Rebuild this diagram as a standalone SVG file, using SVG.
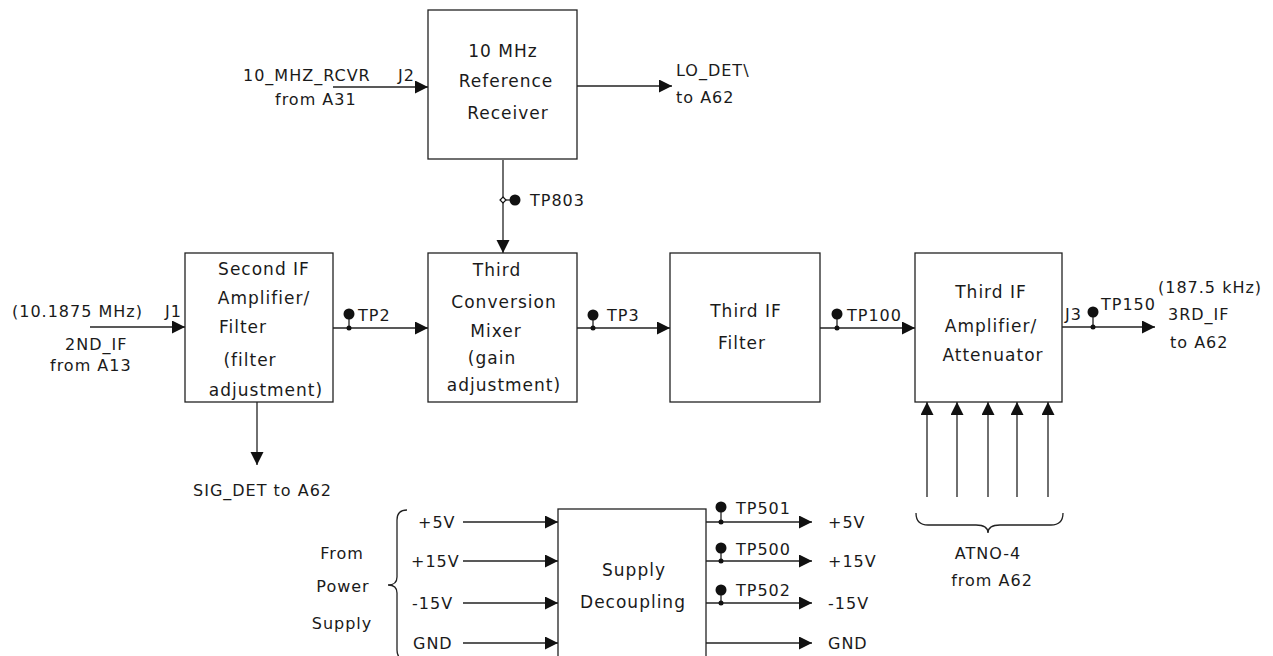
<svg xmlns="http://www.w3.org/2000/svg" width="1273" height="656" viewBox="0 0 1273 656">
<defs>
<marker id="ah" markerUnits="userSpaceOnUse" markerWidth="14" markerHeight="14" refX="13" refY="6.5" orient="auto">
<path d="M0,0 L13,6.5 L0,13 z" fill="#111"/>
</marker>
<style>
.box{fill:#fff;stroke:#222;stroke-width:1.3}
.w{stroke:#222;stroke-width:1.3;fill:none}
.a{stroke:#222;stroke-width:1.3;fill:none;marker-end:url(#ah)}
.t{font-family:"DejaVu Sans",sans-serif;font-size:16px;fill:#1a1a1a;letter-spacing:1px}
.b{font-family:"DejaVu Sans",sans-serif;font-size:17px;fill:#1a1a1a;letter-spacing:1px;text-anchor:middle}
.d{fill:#111}
</style>
</defs>
<rect width="1273" height="656" fill="#fff"/>

<g id="connectors">
<line class="a" x1="333" y1="87" x2="428" y2="87"/>
<line class="a" x1="577" y1="86" x2="672" y2="86"/>
<line class="a" x1="503" y1="160" x2="503" y2="253"/>
<line class="a" x1="90" y1="327" x2="185" y2="327"/>
<line class="a" x1="333" y1="328" x2="428" y2="328"/>
<line class="a" x1="257" y1="402" x2="257" y2="465"/>
<line class="a" x1="577" y1="328" x2="670" y2="328"/>
<line class="a" x1="820" y1="328" x2="915" y2="328"/>
<line class="a" x1="1062" y1="327" x2="1155" y2="327"/>
<line class="a" x1="927" y1="497" x2="927" y2="402"/>
<line class="a" x1="957" y1="497" x2="957" y2="402"/>
<line class="a" x1="988" y1="497" x2="988" y2="402"/>
<line class="a" x1="1017" y1="497" x2="1017" y2="402"/>
<line class="a" x1="1048" y1="497" x2="1048" y2="402"/>
<line class="a" x1="463" y1="522" x2="558" y2="522"/>
<line class="a" x1="463" y1="561" x2="558" y2="561"/>
<line class="a" x1="463" y1="603" x2="558" y2="603"/>
<line class="a" x1="463" y1="643" x2="558" y2="643"/>
<line class="a" x1="706" y1="522" x2="812" y2="522"/>
<line class="a" x1="706" y1="561" x2="812" y2="561"/>
<line class="a" x1="706" y1="603" x2="812" y2="603"/>
<line class="a" x1="706" y1="643" x2="812" y2="643"/>
</g>

<g id="testpoints">
<path d="M503,197 L506,200 L503,203 L500,200 z" fill="#fff" stroke="#111" stroke-width="1.2"/>
<line class="w" x1="506" y1="200" x2="515" y2="200"/>
<circle class="d" cx="515" cy="200" r="5.5"/>
<text class="t" x="530" y="206">TP803</text>

<line class="w" x1="349" y1="314" x2="349" y2="328"/>
<circle class="d" cx="349" cy="314" r="5.5"/><circle class="d" cx="349" cy="328" r="2.5"/>
<text class="t" x="358" y="321">TP2</text>

<line class="w" x1="593" y1="315" x2="593" y2="328"/>
<circle class="d" cx="593" cy="315" r="5.5"/><circle class="d" cx="593" cy="328" r="2.5"/>
<text class="t" x="607" y="321">TP3</text>

<line class="w" x1="837" y1="314" x2="837" y2="328"/>
<circle class="d" cx="837" cy="314" r="5.5"/><circle class="d" cx="837" cy="328" r="2.5"/>
<text class="t" x="847" y="321">TP100</text>

<line class="w" x1="1093" y1="312" x2="1093" y2="327"/>
<circle class="d" cx="1093" cy="312" r="5.5"/><circle class="d" cx="1093" cy="327" r="2.5"/>
<text class="t" x="1101" y="310">TP150</text>

<line class="w" x1="721" y1="507" x2="721" y2="522"/>
<circle class="d" cx="721" cy="507" r="5.5"/><circle class="d" cx="721" cy="522" r="2.5"/>
<text class="t" x="736" y="514">TP501</text>

<line class="w" x1="721" y1="548" x2="721" y2="561"/>
<circle class="d" cx="721" cy="548" r="5.5"/><circle class="d" cx="721" cy="561" r="2.5"/>
<text class="t" x="736" y="555">TP500</text>

<line class="w" x1="721" y1="590" x2="721" y2="603"/>
<circle class="d" cx="721" cy="590" r="5.5"/><circle class="d" cx="721" cy="603" r="2.5"/>
<text class="t" x="736" y="596">TP502</text>
</g>

<g id="ref-receiver">
<rect class="box" x="428" y="10" width="149" height="149"/>
<text class="b" x="503" y="57">10 MHz</text>
<text class="b" x="506" y="87">Reference</text>
<text class="b" x="508" y="119">Receiver</text>
</g>

<g id="second-if">
<rect class="box" x="185" y="253" width="148" height="149"/>
<text class="b" x="264" y="275">Second IF</text>
<text class="b" x="264" y="304">Amplifier/</text>
<text class="b" x="243" y="333">Filter</text>
<text class="b" x="250" y="366">(filter</text>
<text class="b" x="266" y="396">adjustment)</text>
</g>

<g id="mixer">
<rect class="box" x="428" y="253" width="149" height="149"/>
<text class="b" x="497" y="276">Third</text>
<text class="b" x="504" y="308">Conversion</text>
<text class="b" x="496" y="337">Mixer</text>
<text class="b" x="492" y="364">(gain</text>
<text class="b" x="504" y="391">adjustment)</text>
</g>

<g id="third-if-filter">
<rect class="box" x="670" y="253" width="150" height="149"/>
<text class="b" x="746" y="317">Third IF</text>
<text class="b" x="742" y="349">Filter</text>
</g>

<g id="third-if-amp">
<rect class="box" x="915" y="253" width="147" height="149"/>
<text class="b" x="991" y="298">Third IF</text>
<text class="b" x="991" y="332">Amplifier/</text>
<text class="b" x="993" y="361">Attenuator</text>
</g>

<g id="supply-decoupling">
<rect class="box" x="558" y="509" width="148" height="160"/>
<text class="b" x="634" y="576">Supply</text>
<text class="b" x="633" y="608">Decoupling</text>
</g>

<g id="labels">
<text class="t" x="243" y="81">10_MHZ_RCVR</text>
<text class="t" x="398" y="81">J2</text>
<text class="t" x="275" y="105">from A31</text>
<text class="t" x="676" y="76">LO_DET\</text>
<text class="t" x="676" y="103">to A62</text>

<text class="t" x="12" y="317">(10.1875 MHz)</text>
<text class="t" x="165" y="317">J1</text>
<text class="t" x="65" y="350">2ND_IF</text>
<text class="t" x="50" y="371">from A13</text>

<text class="t" x="193" y="496">SIG_DET to A62</text>

<text class="t" x="1065" y="320">J3</text>
<text class="t" x="1158" y="293">(187.5 kHz)</text>
<text class="t" x="1168" y="320">3RD_IF</text>
<text class="t" x="1170" y="348">to A62</text>

<path class="w" d="M916,513 Q916,525 928,525 L976,525 Q988,525 988,533 Q988,525 1000,525 L1051,525 Q1063,525 1063,513"/>
<text class="t" x="988" y="559" text-anchor="middle">ATNO-4</text>
<text class="t" x="992" y="586" text-anchor="middle">from A62</text>

<path class="w" d="M407,510 Q397,510 397,520 L397,577 Q397,585 388,585 Q397,585 397,593 L397,650 Q397,660 407,660"/>
<text class="t" x="342" y="559" text-anchor="middle">From</text>
<text class="t" x="343" y="592" text-anchor="middle">Power</text>
<text class="t" x="342" y="629" text-anchor="middle">Supply</text>

<text class="t" x="418" y="528">+5V</text>
<text class="t" x="411" y="567">+15V</text>
<text class="t" x="412" y="609">-15V</text>
<text class="t" x="413" y="649">GND</text>
<text class="t" x="828" y="528">+5V</text>
<text class="t" x="828" y="567">+15V</text>
<text class="t" x="828" y="609">-15V</text>
<text class="t" x="828" y="649">GND</text>
</g>
</svg>
